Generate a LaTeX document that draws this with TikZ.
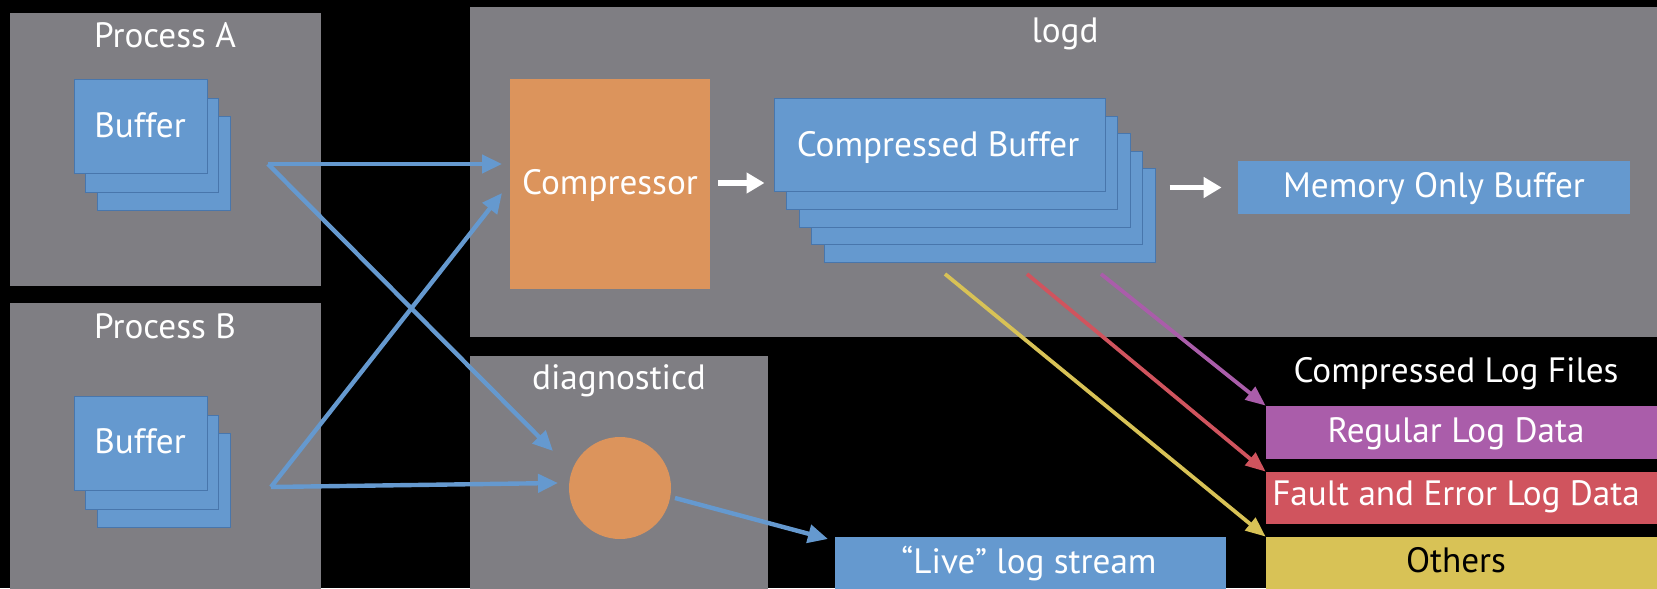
\documentclass[tikz,border=0pt]{standalone}
\usepackage{fontspec}
\setmainfont{PT Sans}
\usetikzlibrary{arrows.meta,fit}
\definecolor{panelgray}{RGB}{127,126,131}
\definecolor{keyblue}{RGB}{101,153,207}
\definecolor{blueedge}{RGB}{72,118,172}
\definecolor{keyorange}{RGB}{220,148,92}
\definecolor{keypurple}{RGB}{170,93,170}
\definecolor{keyred}{RGB}{208,84,94}
\definecolor{keyyellow}{RGB}{216,194,86}
\begin{document}
\begin{tikzpicture}[x=0.5pt,y=-0.5pt,
  panel/.style={fill=panelgray,draw=none,inner sep=0pt},
  blu/.style={fill=keyblue,draw=blueedge,line width=0.5pt,inner sep=0pt},
  bluflat/.style={fill=keyblue,draw=none,inner sep=0pt},
  orng/.style={fill=keyorange,draw=none,inner sep=0pt},
  lbl/.style={text=white,font=\fontsize{17.6}{20}\selectfont,anchor=base,inner sep=0pt},
  flow/.style={draw=keyblue,line width=2.2pt,-{Triangle[length=10pt,width=9pt]}},
  warrow/.style={draw=white,line width=2.6pt,-{Triangle[length=9pt,width=10pt]}},
  colarrow/.style={line width=1.9pt,-{Triangle[length=10pt,width=8pt]}}]
\fill[black] (0,0) rectangle (1657,588);
\useasboundingbox (0,0) rectangle (1657,588);

% Process A
\node[panel,fit={(10,13)(321,286)}] (procA) {};
\node[lbl] (procAlbl) at (165,48) {Process A};
\node[blu,fit={(97,117)(230,211)}] (bufA3) {};
\node[blu,fit={(85,99)(218,193)}] (bufA2) {};
\node[blu,fit={(74,80)(207,174)}] (bufA1) {};
\node[lbl] (bufAlbl) at (140,138) {Buffer};

% Process B
\node[panel,fit={(10,303)(321,590)}] (procB) {};
\node[lbl] (procBlbl) at (165,338) {Process B};
\node[blu,fit={(97,433)(230,527)}] (bufB3) {};
\node[blu,fit={(85,415)(218,509)}] (bufB2) {};
\node[blu,fit={(74,396)(207,490)}] (bufB1) {};
\node[lbl] (bufBlbl) at (140,453) {Buffer};

% logd
\node[panel,fit={(470,7)(1660,337)}] (logd) {};
\node[lbl] (logdlbl) at (1065,43) {logd};
\node[orng,fit={(510,79)(710,289)}] (comp) {};
\node[lbl] (complbl) at (610,195) {Compressor};
\node[blu,fit={(824,169)(1155,262)}] (cb5) {};
\node[blu,fit={(811.5,151.5)(1142.5,244.5)}] (cb4) {};
\node[blu,fit={(799,134)(1130,227)}] (cb3) {};
\node[blu,fit={(786.5,116.5)(1117.5,209.5)}] (cb2) {};
\node[blu,fit={(774,99)(1105,192)}] (cb1) {};
\node[lbl] (cb1lbl) at (938,157) {Compressed Buffer};
\node[bluflat,fit={(1238,161)(1630,214)}] (mem) {};
\node[lbl] (memlbl) at (1434,198) {Memory Only Buffer};

% diagnosticd
\node[panel,fit={(470,356)(768,590)}] (diag) {};
\node[lbl] (diaglbl) at (619,389) {diagnosticd};
\node[circle,fill=keyorange,draw=none,minimum size=51pt,inner sep=0pt] (circ) at (620,488) {};
\node[bluflat,fit={(835,537)(1226,590)}] (live) {};
\node[lbl] (livelbl) at (1029,573) {``Live'' log stream};

% Compressed log files
\node[lbl] (cfl) at (1456,382) {Compressed Log Files};
\node[fill=keypurple,inner sep=0pt,fit={(1266,406)(1660,459)}] (reg) {};
\node[lbl] (reglbl) at (1456,442) {Regular Log Data};
\node[fill=keyred,inner sep=0pt,fit={(1266,472)(1660,524)}] (fault) {};
\node[lbl] (faultlbl) at (1456,505) {Fault and Error Log Data};
\node[fill=keyyellow,inner sep=0pt,fit={(1266,537)(1660,590)}] (oth) {};
\node[lbl,text=black] (othlbl) at (1456,572) {Others};

% connector end points
\coordinate (aout) at (268,164);
\coordinate (bout) at (271,487);
\coordinate (cinA) at (502,164);
\coordinate (cinB) at (502,193);
\coordinate (dinA) at (553,451);
\coordinate (dinB) at (558,483);
\coordinate (dout) at (675,498);
\coordinate (livein) at (828,539);
\coordinate (ys) at (945,274);
\coordinate (rs) at (1027,274);
\coordinate (ps) at (1101,274);

% blue flows
\draw[flow] (aout) -- (cinA);
\draw[flow] (aout) -- (dinA);
\draw[flow] (bout) -- (cinB);
\draw[flow] (bout) -- (dinB);
\draw[flow] (dout) -- (livein);

% white arrows
\draw[warrow,shorten <=4pt,shorten >=4.5pt] ([yshift=0.5pt]comp.east) -- ([yshift=0.5pt]comp.east -| cb1.west);
\draw[warrow,shorten <=7pt,shorten >=8pt] (cb5.east |- mem.west) -- (mem.west);

% coloured arrows
\draw[colarrow,draw=keypurple] (ps) -- (reg.north west);
\draw[colarrow,draw=keyred] (rs) -- (fault.north west);
\draw[colarrow,draw=keyyellow] (ys) -- (oth.north west);
\end{tikzpicture}
\end{document}
